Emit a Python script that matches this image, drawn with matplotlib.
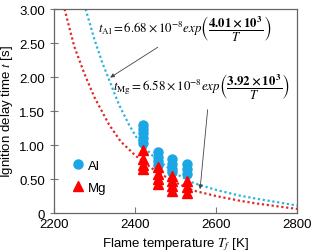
import matplotlib
matplotlib.use("Agg")
import matplotlib.pyplot as plt

al_T = [2420] * 5 + [2457] * 4 + [2491] * 4 + [2528] * 3
al_t = [1.30, 1.24, 1.17, 1.10, 1.03,
        0.90, 0.83, 0.76, 0.70,
        0.79, 0.72, 0.65, 0.60,
        0.72, 0.65, 0.58]
mg_T = [2420] * 4 + [2457] * 4 + [2491] * 4 + [2528] * 3
mg_t = [0.92, 0.80, 0.70, 0.64,
        0.68, 0.58, 0.50, 0.42,
        0.55, 0.47, 0.40, 0.33,
        0.47, 0.38, 0.30]

# fitted curves, points
fit_al_T = [2278, 2300, 2320, 2340, 2360, 2385, 2405, 2440, 2500, 2545, 2600, 2655, 2700, 2750, 2800]
fit_al_t = [3.00, 2.55, 2.20, 1.90, 1.60, 1.30, 1.10, 0.86, 0.58, 0.44, 0.34, 0.26, 0.21, 0.16, 0.11]
fit_mg_T = [2226, 2250, 2275, 2300, 2336, 2365, 2402, 2450, 2500, 2544, 2600, 2659, 2700, 2750, 2800]
fit_mg_t = [3.00, 2.45, 2.05, 1.70, 1.30, 1.05, 0.84, 0.62, 0.45, 0.33, 0.25, 0.18, 0.14, 0.10, 0.06]

x_ticks = [2200, 2400, 2600, 2800]
y_ticks = [0, 0.5, 1.0, 1.5, 2.0, 2.5, 3.0]
y_labels = ["0", "0.50", "1.00", "1.50", "2.00", "2.50", "3.00"]

plt.rcParams["font.family"] = ["Liberation Sans", "DejaVu Sans"]
plt.rcParams["mathtext.fontset"] = "stix"

blue = "#1ba6e6"
red = "#ff0000"

fig = plt.figure(figsize=(3.11, 2.51), dpi=100)
ax = fig.add_axes([0.1736, 0.1474, 0.7814, 0.8126])

ax.plot(fit_al_T, fit_al_t, linestyle=(0, (1, 1.2)), color="#2ab4dc", linewidth=1.6)
ax.plot(fit_mg_T, fit_mg_t, linestyle=(0, (1, 1.2)), color="#e02828", linewidth=1.6)
ax.plot(al_T, al_t, "o", color=blue, markersize=6.5, linestyle="none", label="Al")
ax.plot(mg_T, mg_t, "^", color=red, markersize=6.5, linestyle="none", label="Mg")

ax.set_xlim(2200, 2800)
ax.set_ylim(0, 3.0)
ax.set_xticks(x_ticks)
ax.set_yticks(y_ticks)
ax.set_yticklabels(y_labels)
ax.tick_params(axis="x", direction="in", length=4, labelsize=9.5, color="#777777")
ax.tick_params(axis="y", direction="inout", length=6, labelsize=9.5, color="#777777")
for s in ax.spines.values():
    s.set_color("#666666")
    s.set_linewidth(0.9)

ax.set_xlabel("Flame temperature $\\mathit{T_f}$ [K]", fontsize=9.5, labelpad=4)
ax.set_ylabel("Ignition delay time $\\mathit{t}$ [s]", fontsize=9.5, labelpad=3)

ax.legend(loc="lower left", bbox_to_anchor=(0.02, 0.05), frameon=False, fontsize=9.5,
          handletextpad=0.0, handlelength=1.5, labelspacing=0.7, borderpad=0.2)

ax.text(2308, 2.72,
        r"$t_{\mathrm{Al}} = 6.68 \times 10^{-8}exp\left(\dfrac{\mathbf{4.01 \times 10^3}}{\mathbf{\mathit{T}}}\right)$",
        fontsize=9.3, va="center", ha="left")
ax.text(2345, 1.86,
        r"$t_{\mathrm{Mg}} = 6.58 \times 10^{-8}exp\left(\dfrac{\mathbf{3.92 \times 10^3}}{\mathbf{\mathit{T}}}\right)$",
        fontsize=9.3, va="center", ha="left")

ax.annotate("", xy=(2333, 1.97), xytext=(2462, 2.46),
            arrowprops=dict(arrowstyle="-|>", color="#444444", lw=0.6, mutation_scale=6))
ax.annotate("", xy=(2560, 0.31), xytext=(2580, 1.56),
            arrowprops=dict(arrowstyle="-|>", color="#444444", lw=0.6, mutation_scale=6))

fig.savefig("out.png", dpi=100)
